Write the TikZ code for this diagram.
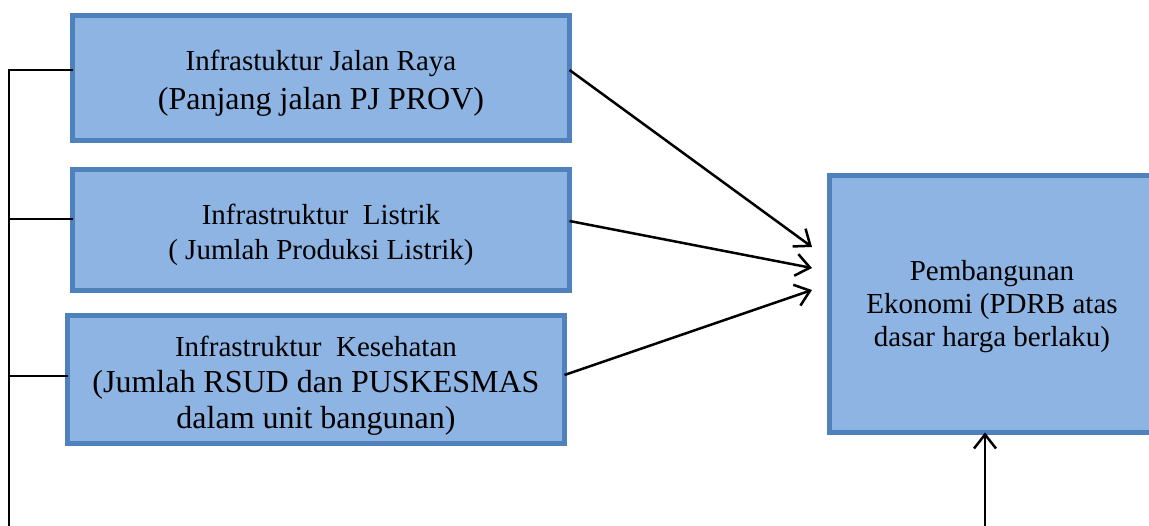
\documentclass[tikz,border=0pt]{standalone}
\usepackage{fontspec}
\setmainfont{Liberation Serif}
\usetikzlibrary{arrows.meta}
\definecolor{boxfill}{HTML}{8EB4E3}
\definecolor{boxline}{HTML}{4F81BD}
\tikzset{
  box/.style={draw=boxline, fill=boxfill, line width=5pt, inner sep=0pt, outer sep=0pt},
  txt/.style={align=center, inner sep=0pt, font=\fontsize{29}{35}\selectfont},
  conn/.style={line width=2.5pt, black},
  arr/.style={conn, -{Straight Barb[length=14pt,width=22pt,line width=2.5pt]}}
}
\newcommand{\bigline}[1]{{\fontsize{32}{36}\selectfont #1}}
\begin{document}
\begin{tikzpicture}[x=1pt,y=-1pt]
\clip (0,0) rectangle (1149,526);
\fill[white] (0,0) rectangle (1149,526);
\node[box, minimum width=497pt, minimum height=125pt] (b1) at (321,78) {};
\node[txt] (t1txt) at ([yshift=-5pt]b1.center)
  {Infrastuktur Jalan Raya\\[4pt] \bigline{(Panjang jalan PJ PROV)}};
\node[box, minimum width=497pt, minimum height=121pt] (b2) at (321,230) {};
\node[txt] (t2txt) at ([yshift=-5pt]b2.center)
  {Infrastruktur\ \ Listrik\\ ( Jumlah Produksi Listrik)};
\node[box, minimum width=497pt, minimum height=128pt] (b3) at (316,380) {};
\node[txt, font=\fontsize{29}{36}\selectfont] (t3txt) at ([yshift=-6pt]b3.center)
  {Infrastruktur\ \ Kesehatan\\ \bigline{(Jumlah RSUD dan PUSKESMAS}\\ \bigline{dalam unit bangunan)}};
\node[box, minimum width=325pt, minimum height=257pt] (big) at (992,304) {};
\node[txt, font=\fontsize{29}{33}\selectfont] (bigtxt) at ([yshift=-3pt]big.center)
  {Pembangunan\\ Ekonomi (PDRB atas\\ dasar harga berlaku)};
% left bracket line
\coordinate (l0) at (9,526);
\coordinate (l1) at (9,70);
\coordinate (l2) at (9,219);
\coordinate (l3) at (9,376);
\draw[conn] (l0) -- (l1) -- (l1 -| b1.west);
\draw[conn] (l2) -- (l2 -| b2.west);
\draw[conn] (l3) -- (l3 -| b3.west);
% arrows to big box
\coordinate (t1) at (812,247);
\coordinate (t2) at (812,268);
\coordinate (t3) at (812,290);
\coordinate (s1) at (571,70);
\coordinate (s2) at (571,221);
\coordinate (s3) at (571,375);
\draw[arr] (s1 -| b1.east) -- (t1);
\draw[arr] (s2 -| b2.east) -- (t2);
\draw[arr] (s3 -| b3.east) -- (t3);
\coordinate (bt) at (985,526);
\draw[arr] (bt) -- (bt |- big.south);
\end{tikzpicture}
\end{document}
